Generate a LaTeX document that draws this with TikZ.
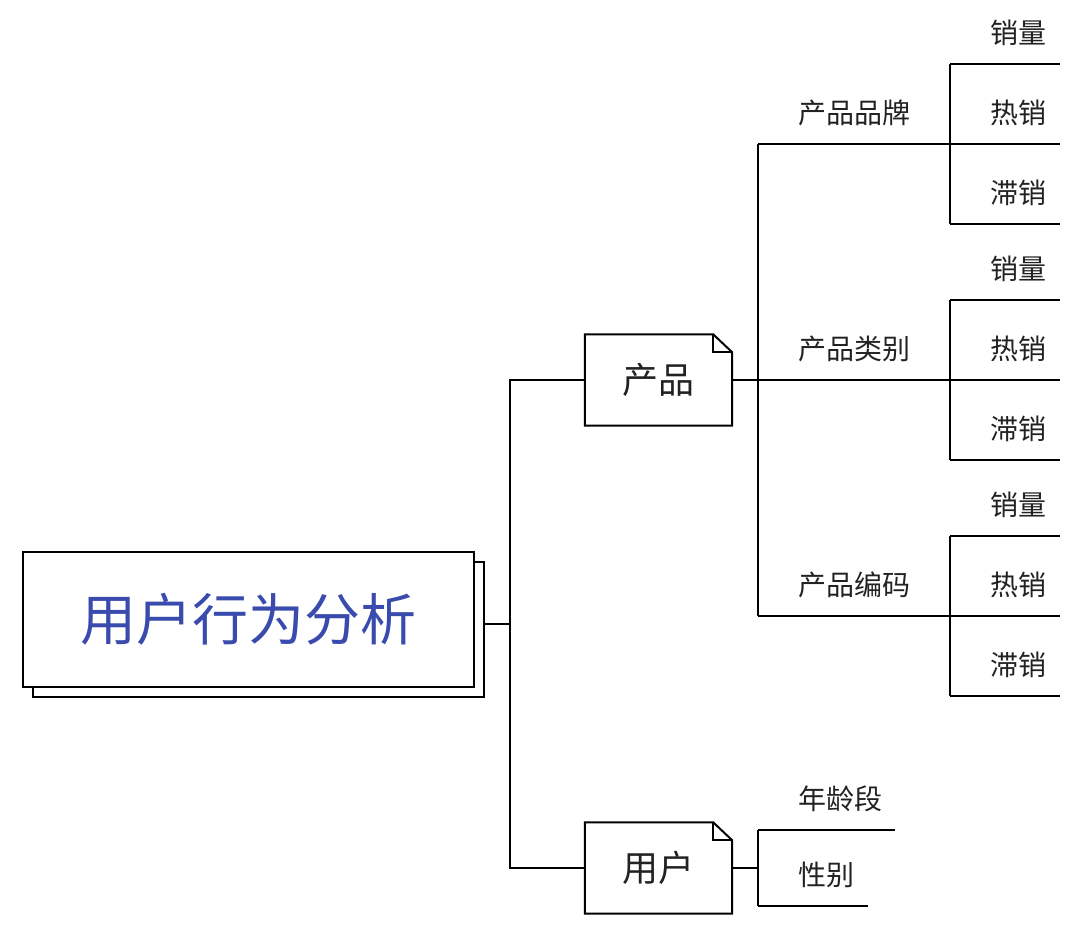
\documentclass[tikz,border=0pt]{standalone}
\usepackage{fontspec}
\newfontfamily\cjk{Noto Sans CJK SC}
\usepackage{xcolor}
\usetikzlibrary{positioning,shadows}
\definecolor{titleblue}{HTML}{3A4BAE}
\definecolor{ink}{HTML}{222222}

\tikzset{
	branch/.style={line width=2pt, black},
	root/.style={draw, line width=2pt, fill=white, minimum width=451pt, minimum height=135pt,
		text=titleblue, font=\cjk\fontsize{56}{64}\selectfont,
		copy shadow={shadow xshift=10pt, shadow yshift=-10pt}},
	note/.style={minimum width=147pt, minimum height=91pt, inner sep=0pt, text=ink,
		font=\cjk\fontsize{36}{40}\selectfont},
	topic/.style={anchor=south west, inner xsep=0pt, inner ysep=0pt, minimum height=62pt,
		text=ink, font=\cjk\fontsize{28}{34}\selectfont,
		append after command={([xshift=-40pt]\tikzlastnode.south west) edge[branch] ([xshift=#1]\tikzlastnode.south east)}},
	topic/.default=14pt
}

\begin{document}
\begin{tikzpicture}[x=1pt, y=-1pt]
				\useasboundingbox (0,0) rectangle (1082,933);
				% main topic and the two boxes
				\node[root] (root) at (248.5,619.5) {用户行为分析};
				\node[note] (prod) at (658.5,380) {产品};
				\node[note] (user) at (658.5,868) {用户};
				\draw[branch] (prod.south west) -- (prod.north west) -- ([xshift=-19pt]prod.north east) -- ([yshift=-18pt]prod.north east) -- (prod.south east) -- cycle;
				\draw[branch] ([xshift=-19pt]prod.north east) |- ([yshift=-18pt]prod.north east);
				\draw[branch] (user.south west) -- (user.north west) -- ([xshift=-19pt]user.north east) -- ([yshift=-18pt]user.north east) -- (user.south east) -- cycle;
				\draw[branch] ([xshift=-19pt]user.north east) |- ([yshift=-18pt]user.north east);
				\coordinate (rootout) at (484,624);
				\coordinate (trunk) at (510,624);
				\coordinate (uj) at (758,868);
				\draw[branch] (rootout) -- (trunk);
				\draw[branch] (prod.west) -| (trunk) |- (user.west);
				% product branches
				\node[topic=40pt] (brand) at (798,144) {产品品牌};
				\node[topic=40pt] (cat) at (798,380) {产品类别};
				\node[topic=40pt] (code) at (798,616) {产品编码};
				\draw[branch] (prod.east) -- ([xshift=-40pt]cat.south west);
				\draw[branch] ([xshift=-40pt]brand.south west) -- ([xshift=-40pt]code.south west);
				\node[topic] (b1) at (990,64) {销量};
				\node[topic] (b2) at (990,144) {热销};
				\node[topic] (b3) at (990,224) {滞销};
				\draw[branch] ([xshift=-40pt]b1.south west) -- ([xshift=-40pt]b3.south west);
				\node[topic] (c1) at (990,300) {销量};
				\node[topic] (c2) at (990,380) {热销};
				\node[topic] (c3) at (990,460) {滞销};
				\draw[branch] ([xshift=-40pt]c1.south west) -- ([xshift=-40pt]c3.south west);
				\node[topic] (d1) at (990,536) {销量};
				\node[topic] (d2) at (990,616) {热销};
				\node[topic] (d3) at (990,696) {滞销};
				\draw[branch] ([xshift=-40pt]d1.south west) -- ([xshift=-40pt]d3.south west);
				% user branches
				\node[topic=13pt] (age) at (798,830) {年龄段};
				\node[topic] (sex) at (798,906) {性别};
				\draw[branch] (user.east) -- (uj);
				\draw[branch] ([xshift=-40pt]age.south west) -- ([xshift=-40pt]sex.south west);
			\end{tikzpicture}
\end{document}
